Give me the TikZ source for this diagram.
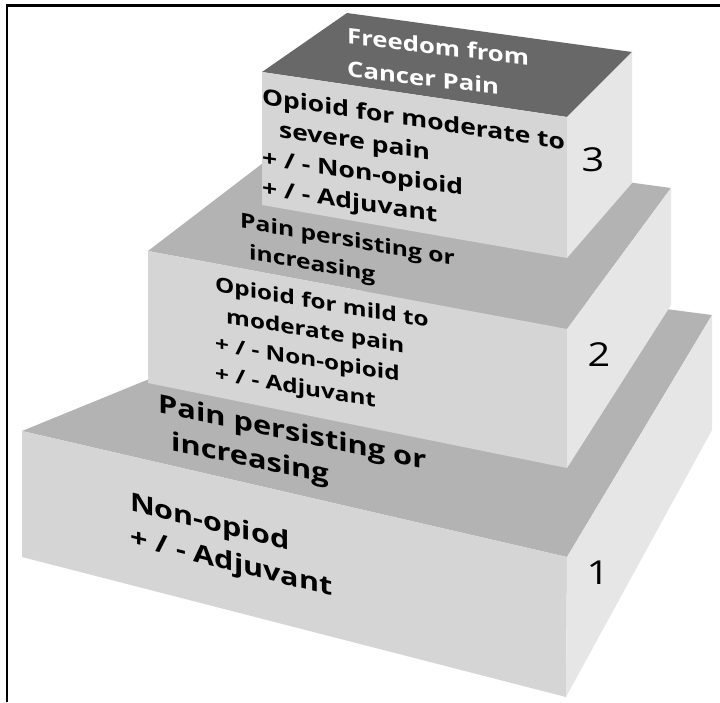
\documentclass[tikz,border=0pt]{standalone}
\usepackage{fontspec}
\setmainfont{Open Sans}[FakeStretch=1.2]

\definecolor{topdark}{HTML}{686868}
\definecolor{topgray}{HTML}{B3B3B3}
\definecolor{frontgray}{HTML}{D5D5D5}
\definecolor{sidegray}{HTML}{E6E6E6}

\begin{document}
\begin{tikzpicture}[
    x=1pt, y=-1pt,          % 画像のピクセル座標をそのまま使う
    topface/.style={fill=topgray},
    frontface/.style={fill=frontgray},
    sideface/.style={fill=sidegray},
    steptext/.style 2 args={anchor=north west, inner sep=0pt, align=left,
                            font=\bfseries\fontsize{#1}{#2}\selectfont},
    stepnum/.style={inner sep=0pt, font=\fontsize{33}{33}\selectfont}
]
    \useasboundingbox (0,0) rectangle (720,702);

    % --- 枠線（上と左だけ） ---
    \draw [line width=2.5pt] (7,702) -- (7,5.5) -- (720,5.5);

    % --- 1段目 ---
    \fill [topface]   (22,431) -- (567,557) -- (712,315) -- (404,275) -- cycle;
    \fill [frontface] (22,431) -- (567,557) -- (566,697) -- (22,557) -- cycle;
    \fill [sideface]  (567,557) -- (712,315) -- (712,430) -- (566,697) -- cycle;

    % --- 2段目 ---
    \fill [topface]   (148,251) -- (567,329) -- (671,188) -- (297,137) -- cycle;
    \fill [frontface] (148,251) -- (567,329) -- (567,468) -- (148,383) -- cycle;
    \fill [sideface]  (567,329) -- (671,188) -- (671,305) -- (567,468) -- cycle;

    % --- 3段目 ---
    \fill [fill=topdark] (262,72) -- (567,117) -- (632,52) -- (347,13) -- cycle;
    \fill [frontface] (262,72) -- (567,117) -- (567,258) -- (262,205) -- cycle;
    \fill [sideface]  (567,117) -- (632,52) -- (632,183) -- (567,258) -- cycle;

    % --- 文字（面の傾きに合わせて yslant） ---
    \node [steptext={21.4}{33}, text=white, yslant=-0.12] (goal) at (347,27)
        {Freedom from\\Cancer Pain};
    \node [steptext={22}{30.5}, yslant=-0.15] (drug3) at (262,87)
        {Opioid for moderate to\\\hspace*{17pt}severe pain\\+ / - Non-opioid\\+ / - Adjuvant};
    \node [steptext={20.5}{30}, yslant=-0.176] (pain2) at (240,212)
        {Pain persisting or\\\hspace*{9pt}increasing};
    \node [steptext={20.2}{29.5}, yslant=-0.167] (drug2) at (215,276)
        {Opioid for mild to\\\hspace*{11pt}moderate pain\\+ / - Non-opioid\\+ / - Adjuvant};
    \node [steptext={25.6}{35}, yslant=-0.21] (pain1) at (158,393)
        {Pain persisting or\\\hspace*{13pt}increasing};
    \node [steptext={25.4}{35}, yslant=-0.25] (drug1) at (130,491)
        {Non-opiod\\+ / - Adjuvant};

    % --- 段の番号 ---
    \node [stepnum] (num3) at (593,160) {3};
    \node [stepnum] (num2) at (599,355) {2};
    \node [stepnum] (num1) at (598,573) {1};

\end{tikzpicture}
\end{document}
